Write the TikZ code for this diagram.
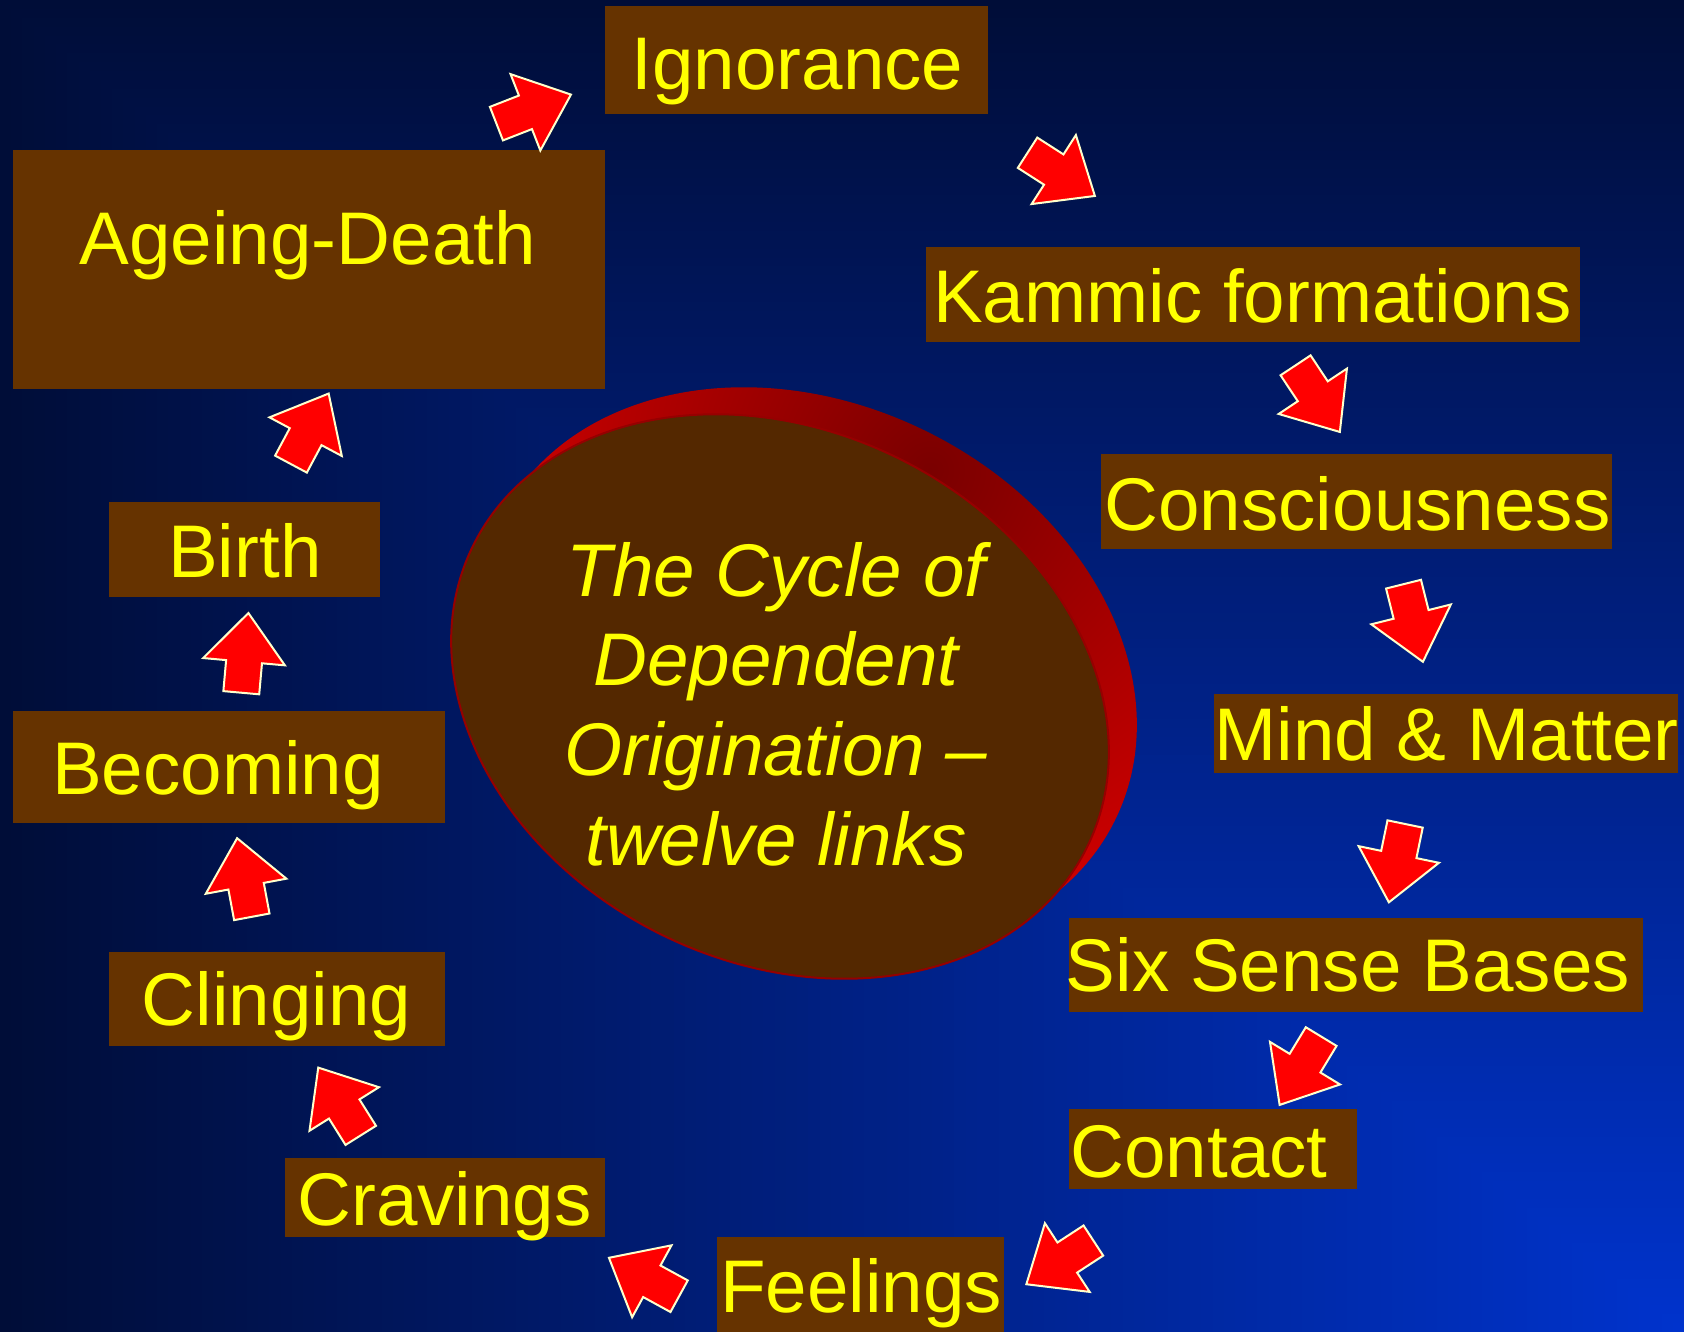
\documentclass[tikz,border=0pt]{standalone}
\usepackage{fontspec}
\setmainfont{Liberation Sans}
\usetikzlibrary{shapes.arrows}
\definecolor{bgdark}{RGB}{0,13,56}
\definecolor{bgbright}{RGB}{0,51,204}
\definecolor{boxbrown}{RGB}{102,51,0}
\definecolor{ovalbrown}{RGB}{84,40,0}
\definecolor{ovaledge}{RGB}{150,0,0}
\definecolor{shadowdark}{RGB}{122,0,0}
\definecolor{shadowbright}{RGB}{235,0,0}
\definecolor{txtyellow}{RGB}{255,255,0}
\definecolor{arrowedge}{RGB}{255,255,204}
\begin{document}
\begin{tikzpicture}[x=0.5pt,y=-0.5pt,
  box/.style={rectangle, fill=boxbrown, inner sep=0pt, outer sep=0pt},
  lbl/.style={anchor=base, inner sep=0pt, text=txtyellow, font=\fontsize{37.3}{44.8}\selectfont},
  blockarrow/.style={single arrow, draw=arrowedge, fill=red, line width=1pt,
    minimum height=40pt, minimum width=40pt, single arrow head extend=11.5pt,
    single arrow tip angle=80, inner xsep=0pt, inner ysep=8.5pt,
    text height=0pt, text depth=0pt, anchor=tail, rotate=#1},
]
\useasboundingbox (0,0) rectangle (1684,1332);
% background: rectangular gradient from the bottom-right corner
\foreach \i in {0,...,149} {
  \pgfmathsetmacro{\p}{100*\i/149}
  \fill[bgbright!\p!bgdark] ({11.22667*\i},{8.88*\i}) rectangle (1684,1332);
}
% shadow of the oval
\begin{scope}
  \clip[shift={(808,669.5)}, rotate=-26] (0,0) ellipse [x radius=171pt, y radius=133pt];
  \shade[inner color=shadowdark, outer color=shadowbright] (930,470) circle (300pt);
\end{scope}
% oval
\filldraw[fill=ovalbrown, draw=ovaledge, line width=1pt, shift={(780,696.5)}, rotate=-26]
  (0,0) ellipse [x radius=171pt, y radius=133pt];
\node[lbl, anchor=center, align=center, font=\itshape\fontsize{37.3}{44.8}\selectfont]
  (title) at (776,704) {The Cycle of\\Dependent\\Origination –\\twelve links};
% boxes
\node[box, minimum width=191.7pt, minimum height=53.7pt] (ignorance) at (796.4,60.1) {};
\node[box, minimum width=295.9pt, minimum height=119.2pt] (ageing) at (308.8,269.6) {};
\node[box, minimum width=327.05pt, minimum height=47.25pt] (kammic) at (1252.9,294.3) {};
\node[box, minimum width=255.6pt, minimum height=47.25pt] (conscious) at (1356.5,501.6) {};
\node[box, minimum width=232pt, minimum height=39.75pt] (mindmatter) at (1445.6,733.6) {};
\node[box, minimum width=287.3pt, minimum height=46.7pt] (sixsense) at (1355.9,965) {};
\node[box, minimum width=143.95pt, minimum height=39.75pt] (contact) at (1212.6,1149.2) {};
\node[box, minimum width=143.4pt, minimum height=47.4pt] (feelings) at (860.8,1284.6) {};
\node[box, minimum width=160.05pt, minimum height=39.7pt] (cravings) at (444.7,1197.5) {};
\node[box, minimum width=168.05pt, minimum height=47.25pt] (clinging) at (276.6,998.9) {};
\node[box, minimum width=215.85pt, minimum height=55.85pt] (becoming) at (228.8,766.9) {};
\node[box, minimum width=135.85pt, minimum height=47.75pt] (birth) at (244.4,549.4) {};
% texts
\node[lbl] (ignorance-t) at (797.4,90) {Ignorance};
\node[lbl] (ageing-t) at (307.7,264.2) {Ageing-Death};
\node[lbl] (kammic-t) at (1252.3,322.2) {Kammic formations};
\node[lbl] (conscious-t) at (1357.5,530.6) {Consciousness};
\node[lbl] (mindmatter-t) at (1446.7,760.4) {Mind \& Matter};
\node[lbl] (sixsense-t) at (1347.9,991.3) {Six Sense Bases};
\node[lbl] (contact-t) at (1199.1,1177) {Contact};
\node[lbl] (feelings-t) at (861.3,1312.4) {Feelings};
\node[lbl] (cravings-t) at (444.6,1225.4) {Cravings};
\node[lbl] (clinging-t) at (276.6,1025.7) {Clinging};
\node[lbl] (becoming-t) at (218,794.8) {Becoming};
\node[lbl] (birth-t) at (244.9,577.8) {Birth};
% block arrows
\node[blockarrow=21.3] (a1) at (495.5,124) {};
\node[blockarrow=-32.7] (a2) at (1026.7,152.2) {};
\node[blockarrow=-56.4] (a3) at (1295,364.5) {};
\node[blockarrow=-76] (a4) at (1403.3,583.2) {};
\node[blockarrow=-101.7] (a5) at (1405.3,823) {};
\node[blockarrow=-121.3] (a6) at (1321.7,1035.7) {};
\node[blockarrow=-146.9] (a7) at (1094.2,1240) {};
\node[blockarrow=151.3] (a8) at (680,1296.7) {};
\node[blockarrow=122.1] (a9) at (361.3,1136.2) {};
\node[blockarrow=100.6] (a10) at (252,917.8) {};
\node[blockarrow=84.9] (a11) at (241.2,693.7) {};
\node[blockarrow=61.9] (a12) at (290.5,465) {};
\end{tikzpicture}
\end{document}
